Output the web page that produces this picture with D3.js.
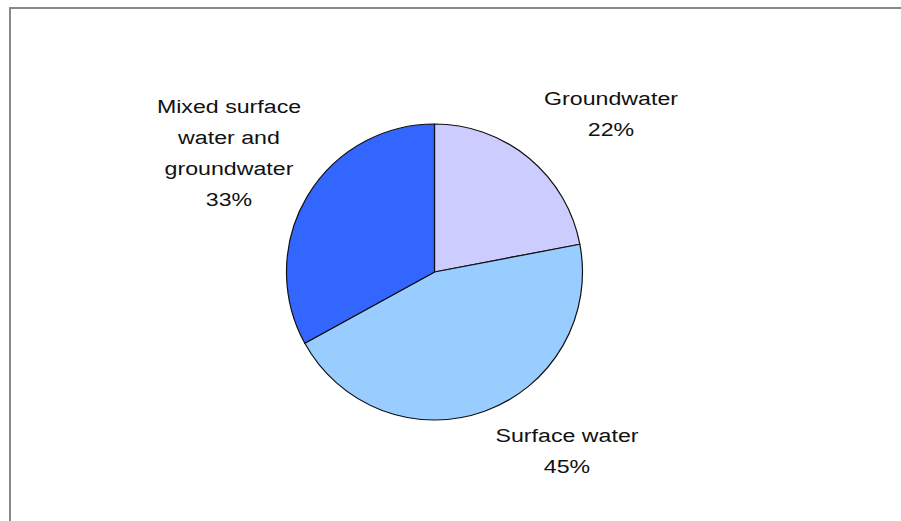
<!DOCTYPE html>
<html>
<head>
<meta charset="utf-8">
<script src="https://cdn.jsdelivr.net/npm/d3@7"></script>
<style>
  body { margin: 0; background: #fff; }
  svg text { font-family: "Liberation Sans", Arial, sans-serif; fill: #111; }
</style>
</head>
<body>
<svg id="chart"></svg>
<script>
// data
var categories = ["Groundwater", "Surface water", "Mixed surface water and groundwater"];
var shares = [22, 45, 33];
var colors = ["#ccccff", "#99ccff", "#3366ff"];
// label lines as they wrap in the original
var labelLines = [
  ["Groundwater", "22%"],
  ["Surface water", "45%"],
  ["Mixed surface", "water and", "groundwater", "33%"]
];

var svgWidth = 901, svgHeight = 521;
var cx = 434.5, cy = 272, radius = 148;
// where each label block is centred, relative to the pie centre
var labelAnchor = [[176.5, -158], [132.5, 179], [-205.5, -119]];

var svg = d3.select('#chart')
    .attr("width", svgWidth)
    .attr("height", svgHeight);

// chart frame (right and bottom edges fall outside the picture)
svg.append("rect")
    .attr("x", 10)
    .attr("y", 8)
    .attr("width", 1000)
    .attr("height", 1000)
    .attr("fill", "none")
    .attr("stroke", "#8a8a8a")
    .attr("stroke-width", 2);

var data = categories.map(function(c, i) {
  return { name: c, value: shares[i], color: colors[i], lines: labelLines[i] };
});

var pie = d3.pie()
    .sort(null)
    .value(function(d) { return d.value; });

var arc = d3.arc()
    .innerRadius(0)
    .outerRadius(radius);

var g = svg.append("g")
    .attr("transform", "translate(" + cx + "," + cy + ")");

var arcs = pie(data);

g.selectAll("path")
    .data(arcs)
    .enter().append("path")
    .attr("d", arc)
    .attr("fill", function(d) { return d.data.color; })
    .attr("stroke", "#111")
    .attr("stroke-width", 1.2)
    .attr("stroke-linejoin", "round");

var lineGap = 31;
var fontSize = 19;

arcs.forEach(function(d, i) {
  var c = labelAnchor[i];
  var lines = d.data.lines;
  var top = c[1] - (lines.length - 1) * lineGap / 2;
  var t = g.append("g")
      .attr("transform", "translate(" + c[0] + "," + top + ") scale(1.22,1)");
  lines.forEach(function(s, j) {
    t.append("text")
        .attr("x", 0)
        .attr("y", j * lineGap)
        .attr("dy", "0.35em")
        .attr("text-anchor", "middle")
        .style("font-size", fontSize + "px")
        .text(s);
  });
});
</script>
</body>
</html>
